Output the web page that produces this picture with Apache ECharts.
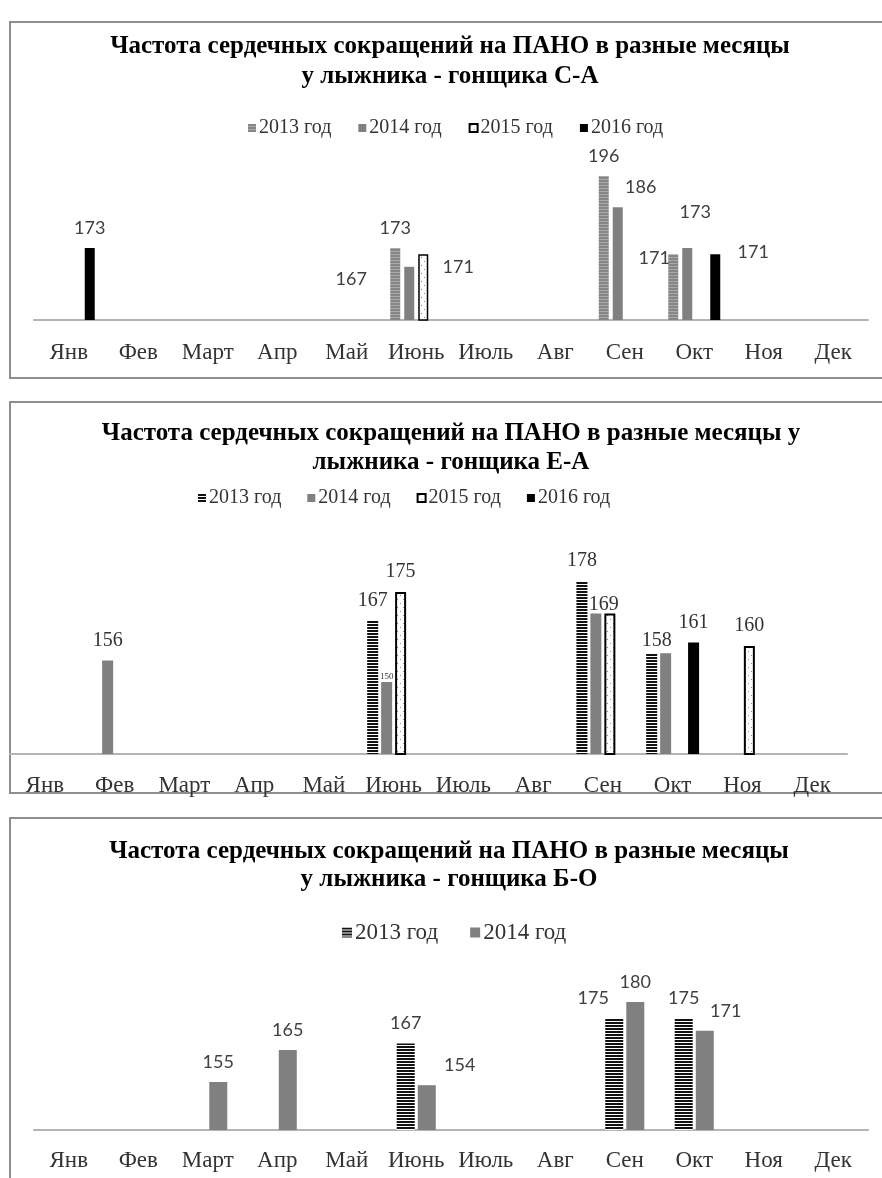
<!DOCTYPE html>
<html>
<head>
<meta charset="utf-8">
<script src="https://cdn.jsdelivr.net/npm/echarts@6/dist/echarts.min.js"></script>
<style>
html,body{margin:0;padding:0;background:#fff;overflow:hidden;width:882px;height:1178px}
.c{position:absolute;left:0;width:882px}
</style>
</head>
<body>
<div id="c1" class="c" style="top:0;height:390px"></div>
<div id="c2" class="c" style="top:390px;height:410px"></div>
<div id="c3" class="c" style="top:800px;height:378px"></div>
<script>
// ---------- DATA ----------
const months = ['Янв','Фев','Март','Апр','Май','Июнь','Июль','Авг','Сен','Окт','Ноя','Дек'];
const yearNames = ['2013 год','2014 год','2015 год','2016 год'];

// Chart 1: лыжник-гонщик С-А
const ca2013 = [null,null,null,null,null,173,null,null,196,171,null,null];
const ca2014 = [null,null,null,null,null,167,null,null,186,173,null,null];
const ca2015 = [null,null,null,null,null,171,null,null,null,null,null,null];
const ca2016 = [173,null,null,null,null,null,null,null,null,171,null,null];
const caRange = [150, 200];

// Chart 2: лыжник-гонщик Е-А
const ea2013 = [null,null,null,null,null,167,null,null,178,158,null,null];
const ea2014 = [null,156,null,null,null,150,null,null,169,158,null,null];
const ea2015 = [null,null,null,null,null,175,null,null,169,null,160,null];
const ea2016 = [null,null,null,null,null,null,null,null,null,161,null,null];
const eaRange = [130, 180];

// Chart 3: лыжник-гонщик Б-О
const bo2013 = [null,null,null,null,null,167,null,null,175,175,null,null];
const bo2014 = [null,null,155,165,null,154,null,null,180,171,null,null];
const boRange = [140, 190];

const titleCA = 'Частота сердечных сокращений на ПАНО в разные месяцы\nу лыжника - гонщика С-А';
const titleEA = 'Частота сердечных сокращений на ПАНО в разные месяцы у\nлыжника - гонщика Е-А';
const titleBO = 'Частота сердечных сокращений на ПАНО в разные месяцы\nу лыжника - гонщика Б-О';

// ---------- STYLES ----------
function rowsPattern(rows, w) {
  const c = document.createElement('canvas');
  c.width = w || 2; c.height = rows.length;
  const x = c.getContext('2d');
  rows.forEach((col, i) => { x.fillStyle = col; x.fillRect(0, i, c.width, 1); });
  return { image: c, repeat: 'repeat' };
}
function dotPattern() {
  const c = document.createElement('canvas');
  c.width = 6; c.height = 8;
  const x = c.getContext('2d');
  x.fillStyle = '#fff'; x.fillRect(0, 0, 6, 8);
  x.fillStyle = '#8a8a8a'; x.fillRect(1, 1, 1, 1); x.fillRect(4, 5, 1, 1);
  return { image: c, repeat: 'repeat' };
}
const grayStripe = rowsPattern(['#868686','#868686','#a9a9a9']);
const blackStripe = rowsPattern(['#111','#111','#fff']);
const dots = dotPattern();

const styleCA = [
  { color: grayStripe },
  { color: '#808080' },
  { color: dots, borderColor: '#000', borderWidth: 1.5 },
  { color: '#000' }
];
const styleEA = [
  { color: blackStripe },
  { color: '#808080' },
  { color: dots, borderColor: '#000', borderWidth: 2 },
  { color: '#000' }
];
const styleBO = [
  { color: blackStripe },
  { color: '#808080' }
];

// label adjustments (manually moved labels in original)
const tweaksCA = {
  '2014 год|Июнь': { offset: [-58, 32] },
  '2015 год|Июнь': { offset: [35, 33] },
  '2014 год|Сен': { offset: [23, 0] },
  '2013 год|Окт': { offset: [-19, 24] },
  '2014 год|Окт': { offset: [8, -16] },
  '2016 год|Окт': { offset: [38, 18] }
};
const tweaksEA = {
  '2014 год|Июнь': { fontSize: 9, distance: 1 },
  '2014 год|Сен': { show: false },
  '2015 год|Сен': { offset: [-6, 11] },
  '2014 год|Окт': { show: false },
  '2013 год|Окт': { offset: [5, 8] }
};
const tweaksBO = {
  '2014 год|Июнь': { offset: [33, 0] },
  '2013 год|Сен': { offset: [-21, 0] },
  '2014 год|Окт': { offset: [21, 0] }
};

function build(dom, cfg) {
  const chart = echarts.init(dom, null, { renderer: 'canvas' });
  const series = cfg.values.map((vals, i) => ({
    type: 'bar',
    name: yearNames[i],
    data: vals.map((v, m) => {
      if (v == null) return '-';
      const tw = cfg.tweaks[yearNames[i] + '|' + months[m]];
      return tw ? { value: v, label: tw } : v;
    }),
    barWidth: cfg.barWidth,
    barGap: cfg.barGap,
    itemStyle: cfg.styles[i],
    label: {
      show: true, position: 'top', distance: cfg.labelDistance,
      fontFamily: cfg.labelFont, fontSize: cfg.labelSize, color: cfg.labelColor
    },
    emphasis: { disabled: true },
    animation: false
  }));
  chart.setOption({
    animation: false,
    graphic: [
      { type: 'rect', silent: true, shape: cfg.frame,
        style: { fill: 'transparent', stroke: '#8e8e8e', lineWidth: 2 } },
      { type: 'text', silent: true, x: cfg.titleX, y: cfg.titleY,
        style: { text: cfg.title, fill: '#000', align: 'center', verticalAlign: 'top',
          font: 'bold ' + cfg.titleSize + 'px "Liberation Serif"', lineHeight: cfg.titleLH } }
    ],
    legend: {
      data: yearNames.slice(0, cfg.values.length),
      left: cfg.legendLeft, top: cfg.legendTop,
      itemWidth: cfg.legendIcon, itemHeight: cfg.legendIcon, itemGap: cfg.legendGap,
      icon: 'rect', selectedMode: false,
      textStyle: { fontFamily: 'Liberation Serif', fontSize: cfg.legendSize, color: '#333', padding: [0,0,0,-2] }
    },
    grid: Object.assign({ containLabel: false, outerBoundsMode: 'none' }, cfg.grid),
    xAxis: {
      type: 'category', data: months,
      axisTick: { show: false },
      axisLine: { lineStyle: { color: '#b4b4b4', width: 2 } },
      axisLabel: { interval: 0, margin: cfg.axisMargin, fontFamily: 'Liberation Serif',
        fontSize: cfg.axisSize, color: '#333' }
    },
    yAxis: { type: 'value', show: false, min: cfg.range[0], max: cfg.range[1],
      splitLine: { show: false } },
    series
  });
}

build(document.getElementById('c1'), {
  values: [ca2013, ca2014, ca2015, ca2016], styles: styleCA, tweaks: tweaksCA,
  range: caRange, barWidth: 10, barGap: '40%',
  grid: { left: 34, right: 14, top: 163.5, bottom: 70 },
  frame: { x: 10, y: 22, width: 900, height: 356 },
  title: titleCA, titleX: 450, titleY: 32, titleSize: 25, titleLH: 30,
  legendLeft: 243, legendTop: 113, legendIcon: 8, legendGap: 27, legendSize: 20,
  labelFont: 'Lato', labelSize: 18, labelColor: '#404040', labelDistance: 11,
  axisMargin: 21, axisSize: 23
});
build(document.getElementById('c2'), {
  values: [ea2013, ea2014, ea2015, ea2016], styles: styleEA, tweaks: tweaksEA,
  range: eaRange, barWidth: 11, barGap: '27%',
  grid: { left: 10, right: 35, top: 184, bottom: 46 },
  frame: { x: 10, y: 12, width: 900, height: 391 },
  title: titleEA, titleX: 451, titleY: 29, titleSize: 25, titleLH: 29,
  legendLeft: 193, legendTop: 93, legendIcon: 8, legendGap: 26, legendSize: 20,
  labelFont: 'Liberation Serif', labelSize: 20, labelColor: '#333', labelDistance: 10,
  axisMargin: 20, axisSize: 23
});
build(document.getElementById('c3'), {
  values: [bo2013, bo2014], styles: styleBO, tweaks: tweaksBO,
  range: boRange, barWidth: 18, barGap: '17%',
  grid: { left: 34, right: 14, top: 170, bottom: 48 },
  frame: { x: 10, y: 18, width: 900, height: 400 },
  title: titleBO, titleX: 449, titleY: 38, titleSize: 25, titleLH: 28,
  legendLeft: 337, legendTop: 116, legendIcon: 10, legendGap: 32, legendSize: 23,
  labelFont: 'Lato', labelSize: 18, labelColor: '#404040', labelDistance: 11,
  axisMargin: 19, axisSize: 23
});
</script>
</body>
</html>
